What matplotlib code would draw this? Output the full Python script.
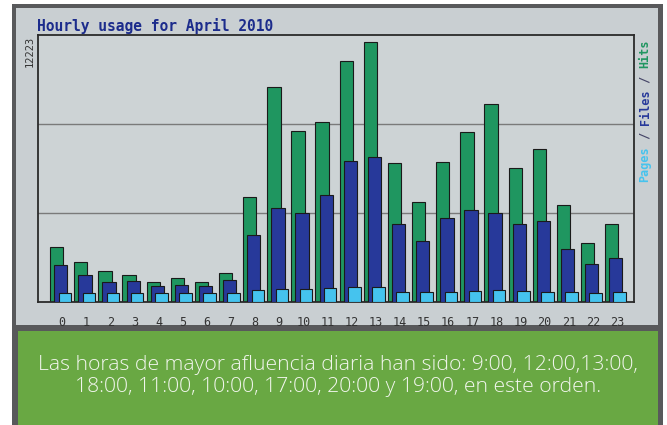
# Hourly usage - webalizer style chart
import numpy as np
import matplotlib.pyplot as plt
from matplotlib.patches import Rectangle

# Datos
hours = np.arange(24)
hits = [2520, 1830, 1420, 1240, 920, 1100, 920, 1330, 4810, 9840, 7830, 8240,
        11030, 11900, 6360, 4580, 6410, 7780, 9060, 6130, 7000, 4440, 2700, 3570]
files = [1690, 1240, 920, 960, 730, 780, 730, 1010, 3070, 4300, 4070, 4900,
         6450, 6640, 3570, 2790, 3850, 4210, 4070, 3570, 3710, 2430, 1740, 2010]
pages = [410, 410, 410, 410, 410, 410, 410, 410, 550, 600, 600, 640,
         690, 690, 460, 460, 460, 500, 550, 500, 460, 460, 410, 460]
ymax = 12223
title = 'Hourly usage for April 2010'
caption = ('Las horas de mayor afluencia diaria han sido: 9:00, 12:00,13:00,\n'
           '18:00, 11:00, 10:00, 17:00, 20:00 y 19:00, en este orden.')

W, H = 667, 425
fig = plt.figure(figsize=(W / 100, H / 100), dpi=100)
fig.patch.set_facecolor('white')

def rect(x0, y0, x1, y1, color, z=-10):
    # rectangulo en pixels (origen arriba a la izquierda)
    fig.patches.append(Rectangle((x0 / W, 1 - y1 / H), (x1 - x0) / W, (y1 - y0) / H,
                                 transform=fig.transFigure, facecolor=color,
                                 edgecolor='none', zorder=z))

rect(12, 4, 663, 425, '#58595b')
rect(16, 8, 658, 325, '#c9cfd2')
rect(18, 331, 658, 425, '#69a843')

def px(x, y):
    return x / W, 1 - y / H

# Zona del grafico
ax = fig.add_axes([38 / W, 1 - 302 / H, (634 - 38) / W, (302 - 35) / H])
ax.set_zorder(5)
ax.set_facecolor('#cdd3d5')
ax.set_xlim(-1.0, 23.7)
ax.set_ylim(0, ymax)

for v in [ymax / 3, 2 * ymax / 3]:
    ax.axhline(v, color='#7a7a7a', lw=1, zorder=1)

ax.bar(hours - 0.5, hits, width=0.55, align='edge', color='#1f9660',
       edgecolor='#1a1a1a', lw=0.8, zorder=2)
ax.bar(hours - 0.33, files, width=0.55, align='edge', color='#27399a',
       edgecolor='#1a1a1a', lw=0.8, zorder=3)
ax.bar(hours - 0.15, pages, width=0.52, align='edge', color='#45c3ee',
       edgecolor='#1a1a1a', lw=0.8, zorder=4)

ax.set_xticks(hours)
ax.set_xticklabels([str(h) for h in hours], family='DejaVu Sans Mono',
                   fontsize=8.5, color='#333333')
ax.tick_params(axis='x', length=0, pad=10)
ax.set_yticks([])
for s in ax.spines.values():
    s.set_color('#2a2a2a')
    s.set_linewidth(1.3)

# Textos
fig.text(*px(37, 26), title, family='DejaVu Sans Mono', weight='bold',
         fontsize=10.5, color='#1c2c8c', ha='left', va='center')
fig.text(*px(30, 36), '12223', family='DejaVu Sans Mono', fontsize=7.5,
         color='#333333', rotation=90, ha='center', va='top')

mono = 8.5
adv = 0.602 * mono * 100 / 72
y0 = 182
for piece, col in [('Pages', '#45c3ee'), (' / ', '#444466'), ('Files', '#27399a'),
                   (' / ', '#444466'), ('Hits', '#1f9660')]:
    fig.text(*px(645, y0), piece, family='DejaVu Sans Mono', weight='bold',
             fontsize=mono, color=col, rotation=90, ha='center', va='bottom')
    y0 -= len(piece) * adv

fig.text(*px(338, 376), caption, family='Open Sans', weight='light',
         fontsize=15.2, color='#f2f6ee', ha='center', va='center',
         linespacing=1.15)

fig.savefig('out.png', dpi=100)
